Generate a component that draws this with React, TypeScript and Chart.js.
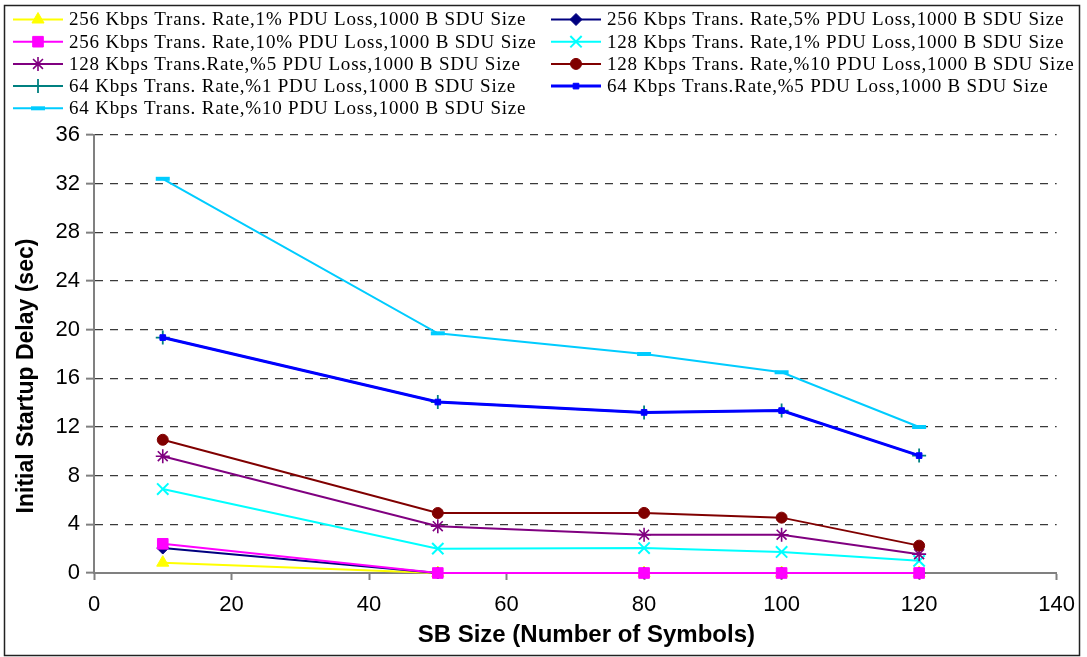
import React, { useEffect, useRef } from 'react';
import { Chart, registerables } from 'chart.js';
import { drawPoint } from 'chart.js/helpers';

Chart.register(...registerables);

// ---- data ----
const sbSizes = [10, 50, 80, 100, 120];

const seriesLabels = [
  '256 Kbps Trans. Rate,1% PDU Loss,1000 B SDU Size',
  '256 Kbps Trans. Rate,5% PDU Loss,1000 B SDU Size',
  '256 Kbps Trans. Rate,10% PDU Loss,1000 B SDU Size',
  '128 Kbps Trans. Rate,1% PDU Loss,1000 B SDU Size',
  '128 Kbps Trans.Rate,%5 PDU Loss,1000 B SDU Size',
  '128 Kbps Trans. Rate,%10 PDU Loss,1000 B SDU Size',
  '64 Kbps Trans. Rate,%1 PDU Loss,1000 B SDU Size',
  '64 Kbps Trans.Rate,%5 PDU Loss,1000 B SDU Size',
  '64 Kbps Trans. Rate,%10 PDU Loss,1000 B SDU Size',
];

const r256loss1 = [0.85, 0, 0, 0, 0];
const r256loss5 = [2.05, 0, 0, 0, 0];
const r256loss10 = [2.4, 0, 0, 0, 0];
const r128loss1 = [6.9, 2.0, 2.05, 1.73, 1.0];
const r128loss5 = [9.6, 3.85, 3.15, 3.15, 1.55];
const r128loss10 = [10.95, 4.93, 4.94, 4.55, 2.25];
const r64loss1 = [19.35, 14.05, 13.2, 13.35, 9.65];
const r64loss5 = [19.35, 14.05, 13.2, 13.35, 9.65];
const r64loss10 = [32.4, 19.7, 18.0, 16.5, 12.0];

const seriesValues = [
  r256loss1, r256loss5, r256loss10,
  r128loss1, r128loss5, r128loss10,
  r64loss1, r64loss5, r64loss10,
];

const xTitle = 'SB Size (Number of Symbols)';
const yTitle = 'Initial Startup Delay (sec)';
const xMin = 0, xMax = 140, xStep = 20;
const yMin = 0, yMax = 36, yStep = 4;

// ---- styles ----
const seriesStyles = [
  { color: '#FFFF00', pointStyle: 'triangle', radius: 7, pbw: 1, lw: 2 },
  { color: '#000080', pointStyle: 'rectRot', radius: 6, pbw: 1, lw: 2 },
  { color: '#FF00FF', pointStyle: 'rect', radius: 7.5, pbw: 1, lw: 2 },
  { color: '#00FFFF', pointStyle: 'crossRot', radius: 8, pbw: 2, lw: 2 },
  { color: '#800080', pointStyle: 'star', radius: 7, pbw: 1.6, lw: 2 },
  { color: '#800000', pointStyle: 'circle', radius: 5.5, pbw: 1, lw: 2 },
  { color: '#008080', pointStyle: 'cross', radius: 7, pbw: 1.8, lw: 2 },
  { color: '#0000FF', pointStyle: 'rect', radius: 4, pbw: 1, lw: 3 },
  { color: '#00CCFF', pointStyle: 'line', radius: 7, pbw: 4, lw: 2 },
];

const W = 1087;
const H = 657;
const sansFamily = '"Liberation Sans", Arial, sans-serif';
const serifFamily = '"Liberation Serif", "Times New Roman", serif';

const decorPlugin = {
  id: 'boxLegendAndTitles',
  afterDraw(chart: any) {
    const ctx = chart.ctx;
    const area = chart.chartArea;
    ctx.save();
    // outer frame
    ctx.setLineDash([]);
    ctx.strokeStyle = '#222';
    ctx.lineWidth = 1.5;
    ctx.strokeRect(4.5, 5.5, 1075, 650);

    // axis titles
    ctx.fillStyle = '#000';
    ctx.textAlign = 'center';
    ctx.textBaseline = 'middle';
    ctx.font = 'bold 24px ' + sansFamily;
    ctx.fillText(xTitle, (area.left + area.right) / 2 + 11, 635);
    ctx.save();
    ctx.translate(27, (area.top + area.bottom) / 2 + 22);
    ctx.rotate(-Math.PI / 2);
    ctx.font = 'bold 23px ' + sansFamily;
    ctx.fillText(yTitle, 0, 0);
    ctx.restore();

    // legend
    ctx.font = '19px ' + serifFamily;
    try { ctx.letterSpacing = '0.8px'; } catch (e) { /* ignore */ }
    ctx.textBaseline = 'middle';
    ctx.textAlign = 'left';
    chart.data.datasets.forEach((ds: any, i: number) => {
      const col = i % 2;
      const row = Math.floor(i / 2);
      const x0 = col ? 551 : 13;
      const y = 19.5 + row * 22.2;
      ctx.strokeStyle = ds.borderColor;
      ctx.lineWidth = ds.borderWidth;
      ctx.beginPath();
      ctx.moveTo(x0, y);
      ctx.lineTo(x0 + 50, y);
      ctx.stroke();
      ctx.fillStyle = ds.pointBackgroundColor;
      ctx.strokeStyle = ds.pointBorderColor;
      ctx.lineWidth = ds.pointBorderWidth;
      drawPoint(ctx, {
        pointStyle: ds.pointStyle,
        radius: ds.pointRadius,
        rotation: 0,
        borderWidth: ds.pointBorderWidth,
      }, x0 + 25, y);
      ctx.fillStyle = '#000';
      ctx.fillText(ds.label, x0 + 56, y + 1);
    });
    ctx.restore();
  },
};

export default function App() {
  const canvasRef = useRef<HTMLCanvasElement | null>(null);

  useEffect(() => {
    const canvas = canvasRef.current;
    if (!canvas) return;
    const datasets = seriesLabels.map((label, i) => {
      const st = seriesStyles[i];
      return {
        label,
        data: sbSizes.map((x, j) => ({ x, y: seriesValues[i][j] })),
        borderColor: st.color,
        backgroundColor: st.color,
        borderWidth: st.lw,
        pointStyle: st.pointStyle,
        pointRadius: st.radius,
        pointHoverRadius: st.radius,
        pointBackgroundColor: st.color,
        pointBorderColor: st.color,
        pointBorderWidth: st.pbw,
        tension: 0,
        fill: false,
        clip: false,
        order: seriesLabels.length - 1 - i,
      };
    });

    const chart = new Chart(canvas, {
      type: 'line',
      data: { datasets },
      plugins: [decorPlugin],
      options: {
        responsive: false,
        animation: false,
        devicePixelRatio: 1,
        layout: { padding: { top: 135, right: 29, left: 0, bottom: 0 } },
        plugins: {
          legend: { display: false },
          tooltip: { enabled: false },
          title: { display: false },
        },
        scales: {
          x: {
            type: 'linear',
            min: xMin,
            max: xMax,
            ticks: {
              stepSize: xStep,
              padding: 12,
              color: '#000',
              maxRotation: 0,
              font: { family: sansFamily, size: 22 },
            },
            grid: {
              drawOnChartArea: false,
              drawTicks: true,
              tickLength: 7,
              tickColor: '#808080',
              tickWidth: 2,
            },
            border: { color: '#808080', width: 2 },
            title: { display: false, text: xTitle },
            afterFit: (s: any) => { s.height = 84; },
          },
          y: {
            type: 'linear',
            min: yMin,
            max: yMax,
            ticks: {
              stepSize: yStep,
              padding: 6,
              color: '#000',
              font: { family: sansFamily, size: 22 },
            },
            grid: {
              color: (c: any) => (c.tick && c.tick.value === 0 ? 'rgba(0,0,0,0)' : '#3a3a3a'),
              lineWidth: 1.3,
              drawTicks: true,
              tickLength: 8,
              tickColor: '#808080',
              tickWidth: 2,
            },
            border: { color: '#808080', width: 2, dash: [8, 7] },
            title: { display: false, text: yTitle },
            afterFit: (s: any) => { s.width = 94; },
          },
        },
      } as any,
    });
    return () => chart.destroy();
  }, []);

  return (
    <div style={{ position: 'fixed', left: 0, top: 0, width: W, height: H, background: '#fff' }}>
      <canvas ref={canvasRef} width={W} height={H} style={{ display: 'block', width: W, height: H }} />
    </div>
  );
}
